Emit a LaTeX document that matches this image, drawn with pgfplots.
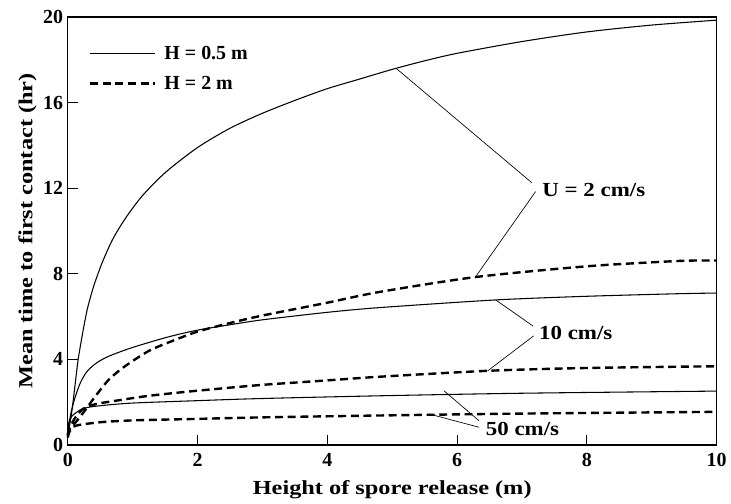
\documentclass[border=0pt]{standalone}
\usepackage{fontspec}
\setmainfont{Liberation Serif}
\newfontfamily\labfont[FakeStretch=1.22]{Liberation Serif}
\newfontfamily\annfont[FakeStretch=1.15]{Liberation Serif}
\usepackage{pgfplots}
\pgfplotsset{compat=1.18}

\newcommand{\lab}{\bfseries\fontsize{15}{18}\selectfont}

\begin{document}
\begin{tikzpicture}
\begin{axis}[
    scale only axis,
    width=488pt, height=322pt,
    xmin=0, xmax=10, ymin=0, ymax=20,
    xtick={0,2,4,6,8,10},
    ytick={0,4,8,12,16,20},
    tick align=inside,
    xtick pos=left, ytick pos=left,
    major tick length=7.5pt,
    axis line style={line width=0.9pt},
    every tick/.style={black, line width=0.8pt},
    /pgf/number format/assume math mode=true,
    tick label style={font=\lab},
    xticklabel style={yshift=-3pt},
    xlabel={Height of spore release (m)},
    ylabel={Mean time to first contact (hr)},
    xlabel style={font=\labfont\lab, yshift=-3pt},
    ylabel style={font=\labfont\lab, yshift=-2pt},
    clip=false,
    legend style={draw=none, fill=none, font=\lab,
        at={(rel axis cs:0.026,0.945)}, anchor=north west,
        row sep=7pt},
    legend cell align=left,
    legend image code/.code={\draw[#1] (0pt,0pt) -- (49pt,0pt); \path (53pt,0pt);},
    solid curve/.style={black, line width=0.8pt, smooth, tension=0.45},
    dash curve/.style={black, line width=1.8pt, dash pattern=on 6pt off 3.5pt, smooth, tension=0.45},
]

% U = 2 cm/s
\addplot[solid curve] coordinates {
  (0,0.5)(0.01,0.6)(0.06,1.52)(0.11,2.76)(0.16,4.0)(0.23,5.25)(0.30,6.34)(0.40,7.43)
  (0.53,8.52)(0.69,9.6)(0.89,10.6)(1.15,11.65)(1.51,12.75)(2,13.9)(2.5,14.8)
  (3,15.5)(3.5,16.1)(4,16.65)(4.5,17.1)(5,17.55)(5.5,17.95)(6,18.3)(7,18.85)
  (8,19.3)(9,19.62)(10,19.85)};
\addlegendentry{H = 0.5 m}
\addplot[dash curve] coordinates {
  (0,0.45)(0.02,0.75)(0.12,1.06)(0.28,1.68)(0.43,2.3)(0.64,3.08)(0.89,3.7)(1.25,4.4)
  (1.6,4.85)(2.0,5.3)(2.5,5.7)(3,6.05)(4,6.65)(4.8,7.15)(6.29,7.85)(8,8.35)(9.42,8.6)(10,8.62)};
\addlegendentry{H = 2 m}

% U = 10 cm/s
\addplot[solid curve] coordinates {
  (0,0.6)(0.05,1.52)(0.12,2.3)(0.2,2.95)(0.3,3.45)(0.45,3.85)(0.64,4.16)(0.99,4.55)
  (1.51,5.02)(1.97,5.35)(2.5,5.62)(3,5.85)(4,6.2)(4.8,6.42)(6.6,6.78)(8,6.95)(9.42,7.07)(10,7.1)};
\addplot[dash curve] coordinates {
  (0,0.45)(0.04,0.85)(0.1,1.21)(0.23,1.68)(0.43,1.91)(0.74,2.07)(1.25,2.3)(1.97,2.53)
  (2.95,2.8)(4,3.02)(4.8,3.19)(6.49,3.47)(8,3.6)(10,3.68)};

% U = 50 cm/s
\addplot[solid curve] coordinates {
  (0,0.7)(0.02,1.1)(0.07,1.37)(0.23,1.7)(0.48,1.83)(0.99,1.96)(1.97,2.07)(2.95,2.17)
  (4.8,2.3)(7,2.42)(10,2.52)};
\addplot[dash curve] coordinates {
  (0,0.35)(0.03,0.65)(0.12,0.9)(0.48,1.06)(0.99,1.15)(1.97,1.22)(2.95,1.29)(4.8,1.38)
  (7,1.47)(10,1.55)};

% leader lines and labels
\draw[line width=0.5pt] (axis cs:7.15,12.26) -- (axis cs:5.06,17.6);
\draw[line width=0.5pt] (axis cs:7.21,11.84) -- (axis cs:6.29,7.88);
\node[anchor=west, font=\annfont\lab, inner sep=0pt] at (axis cs:7.31,11.93) {U = 2 cm/s};

\draw[line width=0.5pt] (axis cs:7.17,5.56) -- (axis cs:6.6,6.77);
\draw[line width=0.5pt] (axis cs:7.18,5.10) -- (axis cs:6.47,3.46);
\node[anchor=west, font=\annfont\lab, inner sep=0pt] at (axis cs:7.26,5.25) {10 cm/s};

\draw[line width=0.5pt] (axis cs:6.34,1.13) -- (axis cs:5.8,2.53);
\draw[line width=0.5pt] (axis cs:6.34,0.83) -- (axis cs:5.57,1.45);
\node[anchor=west, font=\annfont\lab, inner sep=0pt] at (axis cs:6.44,0.75) {50 cm/s};

% page extent of the reference
\path (rel axis cs:-0.1045,1.0396) -- (rel axis cs:1.0184,-0.1375);
\end{axis}
\end{tikzpicture}
\end{document}
